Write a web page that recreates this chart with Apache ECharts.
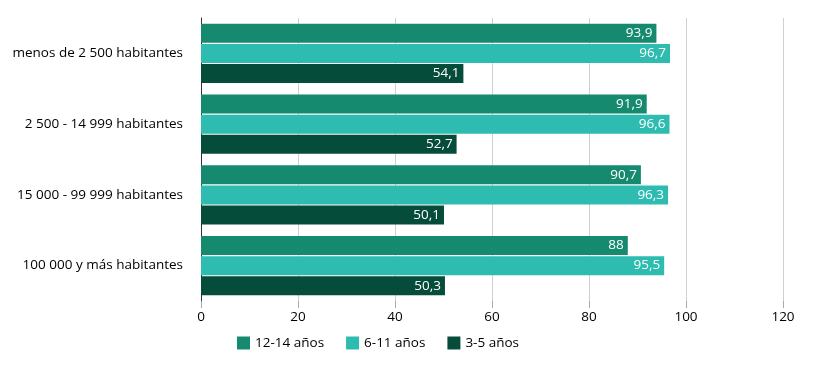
<!DOCTYPE html>
<html>
<head>
<meta charset="utf-8">
<script src="https://cdn.jsdelivr.net/npm/echarts@6/dist/echarts.min.js"></script>
<style>
html,body{margin:0;padding:0;background:#fff;}
#main{width:817px;height:367px;}
</style>
</head>
<body>
<div id="main"></div>
<script>
// categorias (tamaño de localidad)
var categorias = ['menos de 2 500 habitantes', '2 500 - 14 999 habitantes', '15 000 - 99 999 habitantes', '100 000 y más habitantes'];
var nombresSeries = ['12-14 años', '6-11 años', '3-5 años'];
var v12_14 = [93.9, 91.9, 90.7, 88];
var v6_11 = [96.7, 96.6, 96.3, 95.5];
var v3_5 = [54.1, 52.7, 50.1, 50.3];
var colores = ['#168a6f', '#2ebcb0', '#064c3a'];

var fuente = 'Open Sans';

function etiqueta(p){
    return String(p.value).replace('.', ',');
}

function serie(nombre, datos, color){
    return {
        name: nombre,
        type: 'bar',
        data: datos,
        barWidth: 19,
        barGap: '6%',
        itemStyle: {color: color},
        label: {
            show: true,
            position: 'insideRight',
            color: '#fff',
            fontFamily: fuente,
            fontSize: 13.5,
            distance: 4,
            formatter: etiqueta
        }
    };
}

var chart = echarts.init(document.getElementById('main'));
chart.setOption({
    animation: false,
    grid: {left: 201, right: 34, top: 18, bottom: 66},
    legend: {
        bottom: 12,
        left: 232,
        itemWidth: 13,
        itemHeight: 13,
        itemGap: 22,
        icon: 'rect',
        textStyle: {fontFamily: fuente, fontSize: 13.5, color: '#000'},
        data: nombresSeries
    },
    xAxis: {
        type: 'value',
        min: 0,
        max: 120,
        interval: 20,
        axisLine: {show: false},
        axisTick: {show: true, length: 7, lineStyle: {color: '#aaa'}},
        splitLine: {lineStyle: {color: '#d0d0d0'}},
        axisLabel: {fontFamily: fuente, fontSize: 13.5, color: '#000', margin: 9}
    },
    yAxis: {
        type: 'category',
        inverse: true,
        data: categorias,
        axisLine: {lineStyle: {color: '#333'}},
        axisTick: {show: false},
        axisLabel: {fontFamily: fuente, fontSize: 13.5, color: '#000', margin: 18}
    },
    series: [
        serie(nombresSeries[0], v12_14, colores[0]),
        serie(nombresSeries[1], v6_11, colores[1]),
        serie(nombresSeries[2], v3_5, colores[2])
    ]
});
</script>
</body>
</html>
